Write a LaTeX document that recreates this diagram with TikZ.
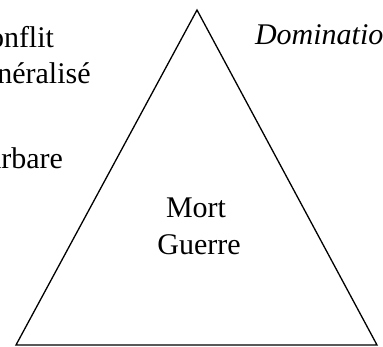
\documentclass[tikz,border=0pt]{standalone}
\usepackage{fontspec}
\setmainfont{Liberation Serif}
\begin{document}
\begin{tikzpicture}[x=1pt,y=-1pt,
  lbl/.style={inner sep=0pt,outer sep=0pt,font=\fontsize{30}{36}\selectfont},
  edge/.style={line width=1.3pt,line join=miter}]
\useasboundingbox (0,0) rectangle (383,347);
\clip (0,0) rectangle (383,347);
\coordinate (apex) at (197,10);
\coordinate (bl) at (16,345);
\coordinate (br) at (377,345);
\draw[edge] (apex) -- (br) -- (bl) -- cycle;
\node[lbl,anchor=base west] (conflit) at (-31,48) {Conflit};
\node[lbl,anchor=base west] (gen) at (-31,84) {généralisé};
\node[lbl,anchor=base west] (barbare) at (-32,169) {Barbare};
\node[lbl,anchor=base west] (dom) at (255,45) {\itshape Domination};
\node[lbl,anchor=base] (mort) at (196,218) {Mort};
\node[lbl,anchor=base] (guerre) at (199,255) {Guerre};
\end{tikzpicture}
\end{document}
